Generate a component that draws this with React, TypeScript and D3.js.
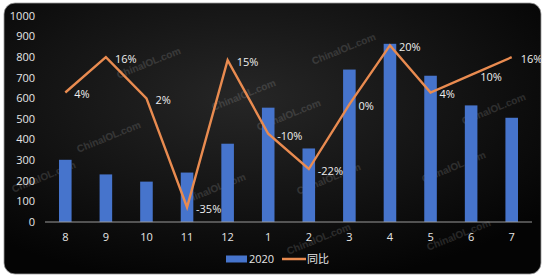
import React from 'react';
import * as d3 from 'd3';

const months = ['8', '9', '10', '11', '12', '1', '2', '3', '4', '5', '6', '7'];
const sales2020 = [302, 231, 196, 240, 380, 555, 357, 740, 865, 710, 566, 506];
const yoy = [0.04, 0.16, 0.02, -0.35, 0.15, -0.10, -0.22, 0.0, 0.20, 0.04, 0.10, 0.16];
const yoyLabels = ['4%', '16%', '2%', '-35%', '15%', '-10%', '-22%', '0%', '20%', '4%', '10%', '16%'];
const yTicks = [0, 100, 200, 300, 400, 500, 600, 700, 800, 900, 1000];
const watermarks = [
  [150, 66], [245, 98], [110, 140], [215, 192], [345, 52], [290, 118],
  [330, 182], [455, 170], [460, 238], [320, 242], [45, 180], [495, 112],
];

const W = 550;
const H = 280;
const margin = { top: 16, right: 18, bottom: 58, left: 45 };
const FONT = '"Open Sans", "Noto Sans CJK SC", sans-serif';

export default function App() {
  const plotW = W - margin.left - margin.right;
  const plotH = H - margin.top - margin.bottom;

  const x = d3.scaleBand<string>()
    .domain(months)
    .range([margin.left, margin.left + plotW])
    .paddingInner(0.69)
    .paddingOuter(0.345);

  const y = d3.scaleLinear().domain([0, 1000]).range([margin.top + plotH, margin.top]);
  // hidden secondary axis for the percentage line
  const y2 = d3.scaleLinear().domain([-0.4, 0.3]).range([margin.top + plotH, margin.top]);

  const cx = (m: string) => (x(m) ?? 0) + x.bandwidth() / 2;

  const line = d3.line<number>()
    .x((_, i) => cx(months[i]))
    .y(d => y2(d));

  return (
    <svg width={W} height={H} style={{ position: 'absolute', left: 0, top: 0, background: '#fff' }}>
      <defs>
        <radialGradient id="bg" cx="45%" cy="35%" r="70%">
          <stop offset="0%" stopColor="#262626" />
          <stop offset="60%" stopColor="#121212" />
          <stop offset="100%" stopColor="#040404" />
        </radialGradient>
      </defs>
      <rect x={4} y={3} width={537} height={271} rx={11} fill="url(#bg)" stroke="#9a9a9a" strokeWidth={0.8} />

      {watermarks.map(([wx, wy], i) => (
        <text key={i} x={wx} y={wy} transform={`rotate(-22 ${wx} ${wy})`} textAnchor="middle"
          fontFamily="Arial, sans-serif" fontWeight="bold" fontSize={10} fill="#ffffff" opacity={0.13}>
          ChinaIOL.com
        </text>
      ))}

      {yTicks.map(t => (
        <text key={t} x={35} y={y(t)} dy="0.35em" textAnchor="end" fontFamily={FONT} fontSize={11} fill="#e6e6e6">
          {t}
        </text>
      ))}

      {months.map((m, i) => (
        <rect key={m} x={x(m)} y={y(sales2020[i])} width={x.bandwidth()} height={y(0) - y(sales2020[i])} fill="#4674cc" />
      ))}

      <line x1={margin.left} x2={margin.left + plotW} y1={y(0)} y2={y(0)} stroke="#9a9a9a" strokeWidth={1} />

      {months.map(m => (
        <text key={m} x={cx(m)} y={y(0) + 15} dy="0.35em" textAnchor="middle" fontFamily={FONT} fontSize={11} fill="#e6e6e6">
          {m}
        </text>
      ))}

      <path d={line(yoy) ?? ''} fill="none" stroke="#e98b50" strokeWidth={2.4} strokeLinejoin="miter" />

      {months.map((m, i) => (
        <text key={m} x={cx(m) + 9} y={y2(yoy[i]) + 2} dy="0.35em" fontFamily={FONT} fontSize={11} fill="#eeeeee">
          {yoyLabels[i]}
        </text>
      ))}

      <g transform="translate(226, 259)">
        <rect x={0} y={-3.5} width={21} height={7} fill="#4674cc" />
        <text x={23} y={0} dy="0.35em" fontFamily={FONT} fontSize={11} fill="#e6e6e6">2020</text>
        <line x1={56} x2={80} y1={0} y2={0} stroke="#e98b50" strokeWidth={2.5} />
        <text x={81} y={0} dy="0.35em" fontFamily={FONT} fontSize={11} fill="#e6e6e6">同比</text>
      </g>
    </svg>
  );
}
